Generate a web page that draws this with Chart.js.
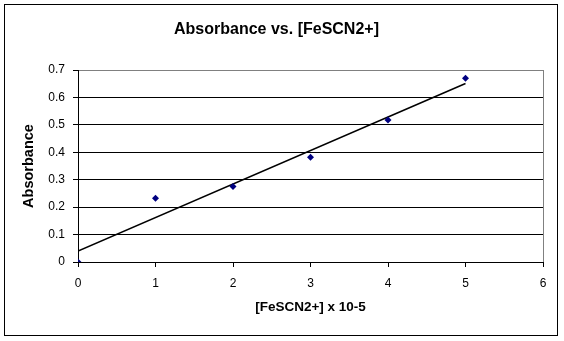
<!DOCTYPE html>
<html>
<head>
<meta charset="utf-8">
<script src="https://cdn.jsdelivr.net/npm/chart.js@4"></script>
<style>
  html, body { margin: 0; padding: 0; background: #fff; }
  #wrap { width: 564px; height: 341px; }
</style>
</head>
<body>
<div id="wrap"><canvas id="chart" width="564" height="341"></canvas></div>
<script>
// values
const concentrations = [0, 1, 2, 3, 4, 5];
const absorbance = [0, 0.232, 0.275, 0.382, 0.518, 0.67];
const trendX = [0, 5];
const trendY = [0.04, 0.651];

const FONT = 'Arial, "Liberation Sans", sans-serif';

const frame = {
    id: 'frame',
    beforeDraw(chart) {
        const ctx = chart.ctx;
        ctx.save();
        ctx.fillStyle = '#fff';
        ctx.fillRect(0, 0, chart.width, chart.height);
        ctx.strokeStyle = '#000';
        ctx.lineWidth = 1;
        ctx.strokeRect(4.5, 4.5, 553, 331);
        ctx.restore();
    }
};

new Chart(document.getElementById('chart'), {
    type: 'scatter',
    data: {
        datasets: [{
            label: 'Absorbance',
            data: concentrations.map((x, i) => ({ x, y: absorbance[i] })),
            pointStyle: 'rectRot',
            pointRadius: 3.5,
            backgroundColor: '#000080',
            borderColor: '#000080',
            borderWidth: 0,
            order: 1
        }, {
            label: 'Trend',
            data: trendX.map((x, i) => ({ x, y: trendY[i] })),
            showLine: true,
            pointRadius: 0,
            borderColor: '#000',
            borderWidth: 1.5,
            order: 2
        }]
    },
    options: {
        responsive: false,
        animation: false,
        layout: { padding: { left: 10, right: 21, top: 0, bottom: 0 } },
        plugins: {
            legend: { display: false },
            tooltip: { enabled: false },
            title: {
                display: true,
                text: 'Absorbance vs. [FeSCN2+]',
                color: '#000',
                font: { family: FONT, size: 16, weight: 'bold' },
                padding: { top: 20, bottom: 30.8 }
            }
        },
        scales: {
            x: {
                type: 'linear',
                min: 0, max: 6,
                ticks: { stepSize: 1, color: '#000', font: { family: FONT, size: 12 }, padding: 9 },
                grid: {
                    color: ctx => ctx.tick && ctx.tick.value === 6 ? '#808080' : 'rgba(0,0,0,0)',
                    tickColor: '#000',
                    tickLength: 5
                },
                border: { color: '#000' },
                title: {
                    display: true,
                    text: '[FeSCN2+] x 10-5',
                    color: '#000',
                    font: { family: FONT, size: 13.5, weight: 'bold' },
                    padding: { top: 0, bottom: 26 }
                },
                afterFit(scale) { scale.height = 79; }
            },
            y: {
                min: 0, max: 0.7,
                ticks: { stepSize: 0.1, color: '#000', font: { family: FONT, size: 12 }, padding: 8 },
                grid: {
                    color: ctx => ctx.tick && ctx.tick.value === 0.7 ? '#808080' : '#000',
                    tickColor: '#000',
                    tickLength: 5
                },
                border: { color: '#000' },
                title: {
                    display: true,
                    text: 'Absorbance',
                    color: '#000',
                    font: { family: FONT, size: 14.5, weight: 'bold' },
                    padding: { top: 10, bottom: 0 }
                },
                afterFit(scale) { scale.width = 68; }
            }
        }
    },
    plugins: [frame]
});
</script>
</body>
</html>
